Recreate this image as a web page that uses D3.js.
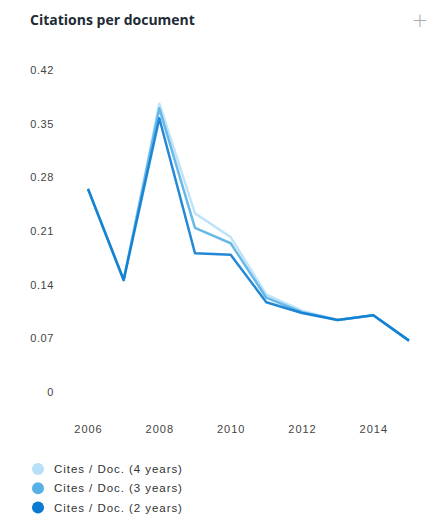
<!DOCTYPE html>
<meta charset="utf-8">
<script src="https://d3js.org/d3.v7.min.js"></script>
<style>
  body { margin: 0; background: #fff; }
  text { font-family: "Liberation Sans", Arial, sans-serif; }
</style>
<svg id="vis"></svg>
<script>
    // Chart data
    let years = [2006, 2007, 2008, 2009, 2010, 2011, 2012, 2013, 2014, 2015]
    let cites4 = [0.265, 0.146, 0.376, 0.233, 0.202, 0.127, 0.106, 0.094, 0.100, 0.067]
    let cites3 = [0.265, 0.146, 0.370, 0.214, 0.194, 0.123, 0.104, 0.094, 0.100, 0.067]
    let cites2 = [0.265, 0.146, 0.357, 0.181, 0.179, 0.117, 0.103, 0.094, 0.100, 0.067]
    let yTicks = [0, 0.07, 0.14, 0.21, 0.28, 0.35, 0.42]
    let xTicks = [2006, 2008, 2010, 2012, 2014]
    let seriesNames = ['Cites / Doc. (4 years)', 'Cites / Doc. (3 years)', 'Cites / Doc. (2 years)']
    let seriesColors = ['#b8e0f7', '#58b1e6', '#0b7bd2']

    let width = 439, height = 525

    let svg = d3.select('#vis')
        .attr('width', width)
        .attr('height', height)

    // Title and plus icon
    svg.append('text')
        .attr('x', 30)
        .attr('y', 25)
        .style('font-family', '"Open Sans", sans-serif')
        .style('font-size', '14px')
        .style('font-weight', 'bold')
        .style('fill', '#1d2b36')
        .text('Citations per document')

    svg.append('text')
        .attr('x', 420)
        .attr('y', 27)
        .attr('text-anchor', 'middle')
        .style('font-family', '"DejaVu Sans", sans-serif')
        .style('font-size', '20px')
        .style('font-weight', '200')
        .style('fill', '#aaa')
        .text('+')

    // Scales
    var x = d3.scaleLinear()
        .domain([2006, 2015])
        .range([88, 409])

    var y = d3.scaleLinear()
        .domain([0, 0.42])
        .range([392, 70])

    // Y axis labels
    var yAxis = svg.append('g')
        .attr('transform', 'translate(54,0)')
        .call(d3.axisLeft(y).tickValues(yTicks).tickSize(0).tickPadding(0)
            .tickFormat(function (d) { return d === 0 ? '0' : d3.format('.2f')(d) }))
    yAxis.select('.domain').remove()
    yAxis.selectAll('text')
        .style('font-size', '11px')
        .style('letter-spacing', '0.6px')
        .style('fill', '#444')
        .style('font-family', '"Liberation Sans", Arial, sans-serif')

    // X axis labels
    var xAxis = svg.append('g')
        .attr('transform', 'translate(0,425)')
        .call(d3.axisBottom(x).tickValues(xTicks).tickSize(0).tickPadding(0)
            .tickFormat(d3.format('d')))
    xAxis.select('.domain').remove()
    xAxis.selectAll('text')
        .style('font-size', '11px')
        .style('letter-spacing', '1px')
        .style('fill', '#444')
        .style('font-family', '"Liberation Sans", Arial, sans-serif')

    // Lines
    var line = d3.line()
        .x(function (d, i) { return x(years[i]) })
        .y(function (d) { return y(d) })

    var allSeries = [cites4, cites3, cites2]
    svg.append('g')
        .selectAll('path')
        .data(allSeries)
        .enter()
        .append('path')
        .attr('d', line)
        .style('fill', 'none')
        .style('stroke', function (d, i) { return seriesColors[i] })
        .style('stroke-width', '2.5px')
        .style('stroke-linejoin', 'round')
        .style('opacity', 0.9)

    // Legend
    var legend = svg.append('g')
        .selectAll('g')
        .data(seriesNames)
        .enter()
        .append('g')
        .attr('transform', function (d, i) { return 'translate(38,' + (469 + i * 19.3) + ')' })

    legend.append('circle')
        .attr('r', 6)
        .style('fill', function (d, i) { return seriesColors[i] })

    legend.append('text')
        .attr('x', 16)
        .attr('y', 4)
        .style('font-size', '11.5px')
        .style('letter-spacing', '0.95px')
        .style('fill', '#333')
        .text(function (d) { return d })
</script>
